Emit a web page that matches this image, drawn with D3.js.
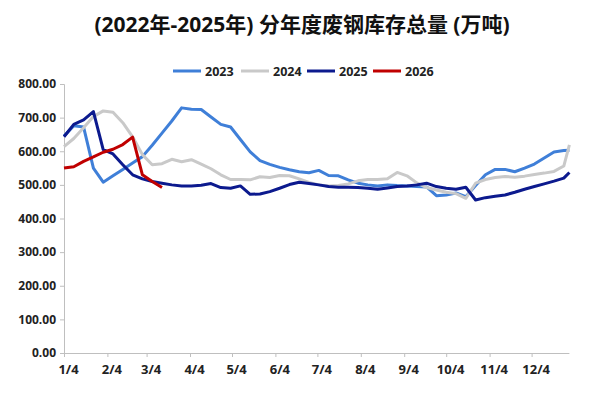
<!DOCTYPE html>
<html>
<head>
<meta charset="utf-8">
<script src="https://cdn.jsdelivr.net/npm/d3@7/dist/d3.min.js"></script>
<style>
  body { margin: 0; background: #fff; }
  text { font-family: "Open Sans", "Noto Sans CJK SC", sans-serif; }
</style>
</head>
<body>
<svg id="chart"></svg>
<script>
// chart data (weekly)
const weeks = ["01-04","01-11","01-18","01-25","02-01","02-08","02-15","02-22","03-01","03-08","03-15","03-22","03-29",
  "04-05","04-12","04-19","04-26","05-03","05-10","05-17","05-24","05-31","06-07","06-14","06-21","06-28",
  "07-05","07-12","07-19","07-26","08-02","08-09","08-16","08-23","08-30","09-06","09-13","09-20","09-27",
  "10-04","10-11","10-18","10-25","11-01","11-08","11-15","11-22","11-29","12-06","12-13","12-20","12-27","12-31"];

const s2023 = [645,676,672,550,508,527,546,565,584,618,654,690,729,725,724,702,680,672,635,598,572,561,552,545,539,536,
  543,528,527,515,505,500,497,500,498,497,495,494,468,470,476,465,498,530,546,546,539,550,562,580,598,602,603];
const s2024 = [614,638,670,703,720,716,685,643,590,560,563,576,569,575,562,548,530,516,516,515,524,522,528,527,518,507,
  500,497,498,503,512,516,516,518,537,527,506,492,485,478,474,460,505,516,522,525,523,526,531,535,540,556,619];
const s2025 = [643,680,693,718,605,592,560,530,518,510,505,500,497,497,499,504,492,490,497,472,473,480,490,501,508,504,
  500,495,493,493,492,490,487,491,495,497,500,505,495,490,487,493,455,462,466,470,478,487,495,503,511,520,537];
const s2026 = [550,554,570,583,597,606,620,642,530,510,492];

const seriesNames = ["2023", "2024", "2025", "2026"];
const seriesColors = ["#3f7fd8", "#c9c9c9", "#0c1a8e", "#c00000"];
const yTicks = [0, 100, 200, 300, 400, 500, 600, 700, 800];
const xTickLabels = ["1/4","2/4","3/4","4/4","5/4","6/4","7/4","8/4","9/4","10/4","11/4","12/4"];

const W = 600, H = 393;
const plot = {left: 64, right: 569.4, top: 84, bottom: 353};

const svg = d3.select("#chart").attr("width", W).attr("height", H);

const parse = s => new Date(2023, +s.slice(0, 2) - 1, +s.slice(3));

const x = d3.scaleTime()
  .domain([new Date(2023, 0, 4), new Date(2023, 11, 31)])
  .range([plot.left, plot.right]);
const y = d3.scaleLinear().domain([0, 800]).range([plot.bottom, plot.top]);

// title
svg.append("text")
  .attr("x", 302).attr("y", 32)
  .attr("text-anchor", "middle")
  .attr("font-size", 21).attr("font-weight", "bold").attr("fill", "#111")
  .text("(2022年-2025年) 分年度废钢库存总量 (万吨)");

// legend
const legendX = [173, 241, 307, 373];
seriesNames.forEach((n, i) => {
  const g = svg.append("g").attr("transform", "translate(" + legendX[i] + ",71)");
  g.append("line").attr("x1", 0).attr("x2", 28).attr("y1", 0).attr("y2", 0)
    .attr("stroke", seriesColors[i]).attr("stroke-width", 3);
  g.append("text").attr("x", 32).attr("y", 4.5)
    .attr("font-size", 12.5).attr("font-weight", "bold").attr("fill", "#222")
    .text(n);
});

// y axis
const yAxis = svg.append("g")
  .attr("transform", "translate(" + plot.left + ",0)")
  .call(d3.axisLeft(y).tickValues(yTicks).tickSize(4).tickPadding(4).tickFormat(d3.format(".2f")));
yAxis.select(".domain").attr("stroke", "#bfbfbf");
yAxis.selectAll(".tick line").attr("stroke", "#bfbfbf");
yAxis.selectAll("text").attr("font-size", 12).attr("font-weight", "bold").attr("fill", "#222")
  .attr("font-family", "Open Sans");

// x axis
const monthTicks = d3.range(12).map(m => new Date(2023, m, 4));
const xAxis = svg.append("g")
  .attr("transform", "translate(0," + plot.bottom + ")")
  .call(d3.axisBottom(x).tickValues(monthTicks).tickSize(4).tickPadding(8)
    .tickFormat((d, i) => xTickLabels[i]));
xAxis.select(".domain").attr("stroke", "#bfbfbf").attr("d", "M" + plot.left + ",0.5H" + plot.right);
xAxis.selectAll(".tick line").attr("stroke", "#bfbfbf");
xAxis.selectAll("text").attr("font-size", 13).attr("font-weight", "bold").attr("fill", "#222")
  .attr("font-family", "Open Sans").attr("dx", 4);

// lines
const allSeries = [s2023, s2024, s2025, s2026];
const line = d3.line()
  .x((d, i) => x(parse(weeks[i])))
  .y(d => y(d));

allSeries.forEach((s, k) => {
  svg.append("path")
    .datum(s)
    .attr("fill", "none")
    .attr("stroke", seriesColors[k])
    .attr("stroke-width", 3)
    .attr("stroke-linejoin", "round")
    .attr("d", line);
});
</script>
</body>
</html>
